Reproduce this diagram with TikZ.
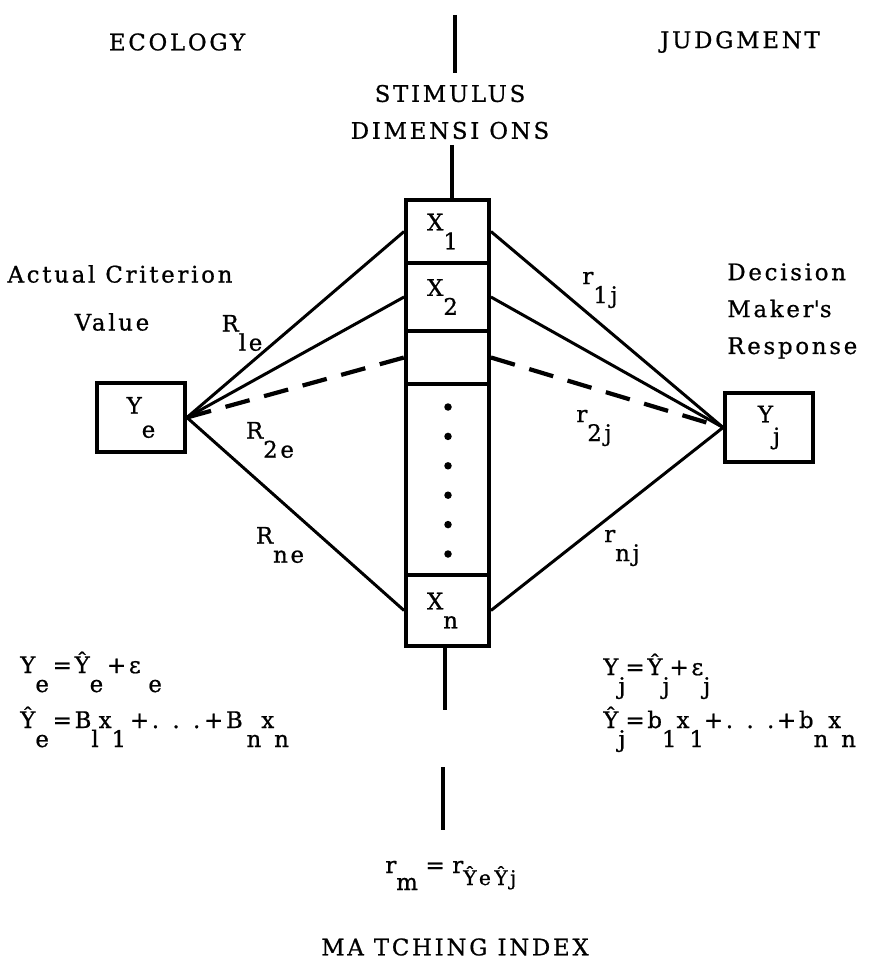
\documentclass[tikz,border=0pt]{standalone}
\usepackage{fontspec}
\setmainfont[LetterSpace=12,FakeBold=0.8]{DejaVu Serif}
\usetikzlibrary{positioning}
% lowered subscript, as the typewriter set it
\newcommand{\dn}[2][3.8mm]{\raisebox{-#1}{#2}}
\tikzset{
  txt/.style={inner sep=0pt,font=\fontsize{13}{21}\selectfont},
  eqn/.style={inner sep=0pt,anchor=base west,font=\fontsize{13}{15}\selectfont},
  valbox/.style={draw,line width=2.2pt,minimum width=17.6mm,minimum height=13.8mm,
    inner sep=0pt,font=\fontsize{13}{15}\selectfont},
  cell/.style={draw,line width=2.2pt,minimum width=16.6mm,inner sep=0pt,
    font=\fontsize{13}{15}\selectfont},
  cue/.style={line width=1.7pt},
  cuedash/.style={line width=2.4pt,dash pattern=on 5mm off 3mm},
  axis/.style={line width=2pt},
}
\begin{document}
\begin{tikzpicture}[x=0.2mm,y=-0.2mm]
  \useasboundingbox (0,0) rectangle (875,973);
  % headings
  \node[txt] (eco) at (177,42) {ECOLOGY};
  \node[txt] (jdg) at (740,42) {JUDGMENT};
  \node[txt,align=center] (stim) at (450,112) {STIMULUS\\DIMENSI ONS};
  % stimulus column
  \node[cell,minimum height=12.6mm] (x1) at (447.5,231.5) {X\dn{1}\hspace*{2mm}};
  \node[cell,minimum height=13.6mm] (x2) at (447.5,297) {X\dn{2}\hspace*{2mm}};
  \node[cell,minimum height=10.6mm] (xe) at (447.5,357.5) {};
  \node[cell,minimum height=38.2mm] (xd) at (447.5,479.5) {};
  \node[cell,minimum height=14.2mm] (xn) at (447.5,610.5) {X\dn{n}\hspace*{2mm}};
  \foreach \k in {0,...,5}
    \fill (448,{407+29.4*\k}) circle (0.75mm);
  % centre axis
  \coordinate (t0) at (455,15);
  \coordinate (t1) at (455,73);
  \coordinate (t2) at (452,145);
  \coordinate (b1) at (445,710);
  \coordinate (b2) at (443,767);
  \coordinate (b3) at (443,830);
  \draw[axis] (t0) -- (t1);
  \draw[axis] (t2) -- (x1.north -| t2);
  \draw[axis] (xn.south -| b1) -- (b1);
  \draw[axis] (b2) -- (b3);
  % criterion and response
  \node[valbox] (ye) at (141,417.5) {Y\dn[4.8mm]{e}};
  \node[valbox] (yj) at (769,427.5) {Y\dn[4.4mm]{j}};
  \node[txt] (act) at (120,274) {Actual Criterion};
  \node[txt] (val) at (112,322) {Value};
  \node[txt,align=left,anchor=north west] (dec) at (727,263)
    {Decision\\Maker\textquotesingle s\\Response};
  % cues
  \draw[cue] (ye.east) -- (x1.west);
  \draw[cue] (ye.east) -- (x2.west);
  \draw[cuedash] (ye.east) -- (xe.west);
  \draw[cue] (ye.east) -- (xn.west);
  \draw[cue] (x1.east) -- (yj.west);
  \draw[cue] (x2.east) -- (yj.west);
  \draw[cuedash] (xe.east) -- (yj.west);
  \draw[cue] (xn.east) -- (yj.west);
  % weights
  \node[txt] (r1e) at (242,333) {R\dn{le}};
  \node[txt] (r2e) at (270,440) {R\dn{2e}};
  \node[txt] (rne) at (280,545) {R\dn{ne}};
  \node[txt] (r1j) at (600,290) {r\dn{1j}};
  \node[txt] (r2j) at (594,428) {r\dn{2j}};
  \node[txt] (rnj) at (622,548) {r\dn{nj}};
  % models
  \node[eqn] (eqe1) at (20,673) {Y\dn{e}\,=Ŷ\dn{e}\,+ε\,\,\dn{e}};
  \node[eqn] (eqe2) at (20,728) {Ŷ\dn{e}\,=B\dn{l}x\dn{1}\,+. . .\,+B\,\dn{n}x\dn{n}};
  \node[eqn] (eqj1) at (603,675) {Y\dn{j}=Ŷ\dn{j}+ε\dn{j}};
  \node[eqn] (eqj2) at (603,728) {Ŷ\dn{j}=b\dn{1}x\dn{1}+. . .+b\dn{n}x\dn{n}};
  % matching
  \node[eqn] (rm) at (385,873)
    {r\dn[3.4mm]{m}\,\,=\,\,r\dn[2.4mm]{\fontsize{11.5}{13}\selectfont Ŷe\,Ŷj}};
  \node[txt] (mi) at (455,947) {MA TCHING INDEX};
\end{tikzpicture}
\end{document}
